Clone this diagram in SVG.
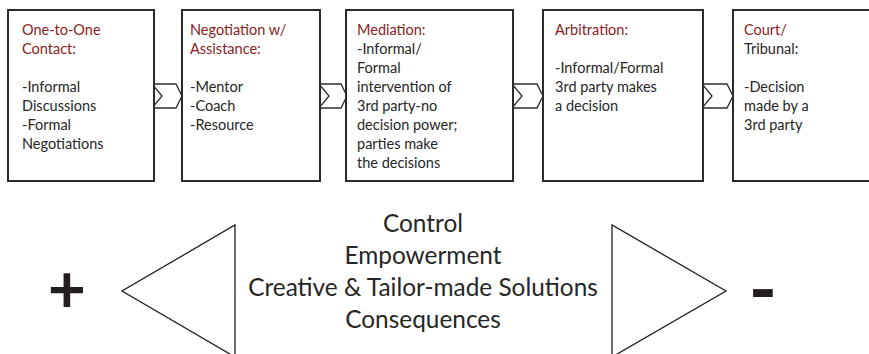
<svg xmlns="http://www.w3.org/2000/svg" width="869" height="354" viewBox="0 0 869 354">
  <style>
    .box { fill: #ffffff; stroke: #2b2b2b; stroke-width: 2; }
    .chev { fill: #ffffff; stroke: #2b2b2b; stroke-width: 1.3; stroke-linejoin: miter; }
    .tri { fill: #ffffff; stroke: #231f20; stroke-width: 1.3; }
    .t { font-family: Lato, "Liberation Sans", sans-serif; font-size: 14.5px; fill: #262626; }
    .h { fill: #8a1c1c; }
    .big { font-family: Lato, "Liberation Sans", sans-serif; font-size: 24.4px; fill: #262626; text-anchor: middle; }
    .sign { font-family: Lato, "Liberation Sans", sans-serif; font-weight: bold; fill: #231f20; text-anchor: middle; }
  </style>
  <rect width="869" height="354" fill="#ffffff"/>

  <!-- step arrows between the boxes -->
  <g id="connectors">
    <polygon class="chev" points="152,84 176,84 182,96 176,108 152,108 162,96"/>
    <polygon class="chev" points="319,84 341,84 347,96 341,108 319,108 329,96"/>
    <polygon class="chev" points="512,84 537,84 543,96 537,108 512,108 522,96"/>
    <polygon class="chev" points="702,84 727,84 733,96 727,108 702,108 712,96"/>
  </g>

  <g id="one-to-one">
    <rect class="box" x="8" y="10" width="146" height="171"/>
    <text class="t" x="22">
      <tspan class="h" x="22" y="35">One-to-One</tspan>
      <tspan class="h" x="22" y="54">Contact:</tspan>
      <tspan x="22" y="92">-Informal</tspan>
      <tspan x="22" y="111">Discussions</tspan>
      <tspan x="22" y="130">-Formal</tspan>
      <tspan x="22" y="149">Negotiations</tspan>
    </text>
  </g>

  <g id="negotiation">
    <rect class="box" x="182" y="10" width="138" height="171"/>
    <text class="t">
      <tspan class="h" x="190" y="35">Negotiation w/</tspan>
      <tspan class="h" x="190" y="54">Assistance:</tspan>
      <tspan x="190" y="92">-Mentor</tspan>
      <tspan x="190" y="111">-Coach</tspan>
      <tspan x="190" y="130">-Resource</tspan>
    </text>
  </g>

  <g id="mediation">
    <rect class="box" x="346" y="10" width="167" height="171"/>
    <text class="t">
      <tspan class="h" x="357" y="35">Mediation:</tspan>
      <tspan x="357" y="54">-Informal/</tspan>
      <tspan x="357" y="73">Formal</tspan>
      <tspan x="357" y="92">intervention of</tspan>
      <tspan x="357" y="111">3rd party-no</tspan>
      <tspan x="357" y="130">decision power;</tspan>
      <tspan x="357" y="149">parties make</tspan>
      <tspan x="357" y="168">the decisions</tspan>
    </text>
  </g>

  <g id="arbitration">
    <rect class="box" x="543" y="10" width="160" height="171"/>
    <text class="t">
      <tspan class="h" x="555" y="35">Arbitration:</tspan>
      <tspan x="555" y="73">-Informal/Formal</tspan>
      <tspan x="555" y="92">3rd party makes</tspan>
      <tspan x="555" y="111">a decision</tspan>
    </text>
  </g>

  <g id="court">
    <rect class="box" x="733" y="10" width="150" height="171"/>
    <text class="t">
      <tspan class="h" x="744" y="35">Court/</tspan>
      <tspan x="744" y="54">Tribunal:</tspan>
      <tspan x="744" y="92">-Decision</tspan>
      <tspan x="744" y="111">made by a</tspan>
      <tspan x="744" y="130">3rd party</tspan>
    </text>
  </g>

  <!-- scale along the bottom -->
  <g id="more-side">
    <text class="sign" x="67" y="313" font-size="66">+</text>
    <polygon class="tri" points="235,225 235,357 122,291"/>
  </g>

  <g id="factors">
    <text class="big" x="423" y="232">Control</text>
    <text class="big" x="423" y="264">Empowerment</text>
    <text class="big" x="423" y="296">Creative &amp; Tailor-made Solutions</text>
    <text class="big" x="423" y="328">Consequences</text>
  </g>

  <g id="less-side">
    <polygon class="tri" points="612,225 612,357 726,291"/>
    <text class="sign" x="763" y="316" font-size="76">-</text>
  </g>
</svg>
